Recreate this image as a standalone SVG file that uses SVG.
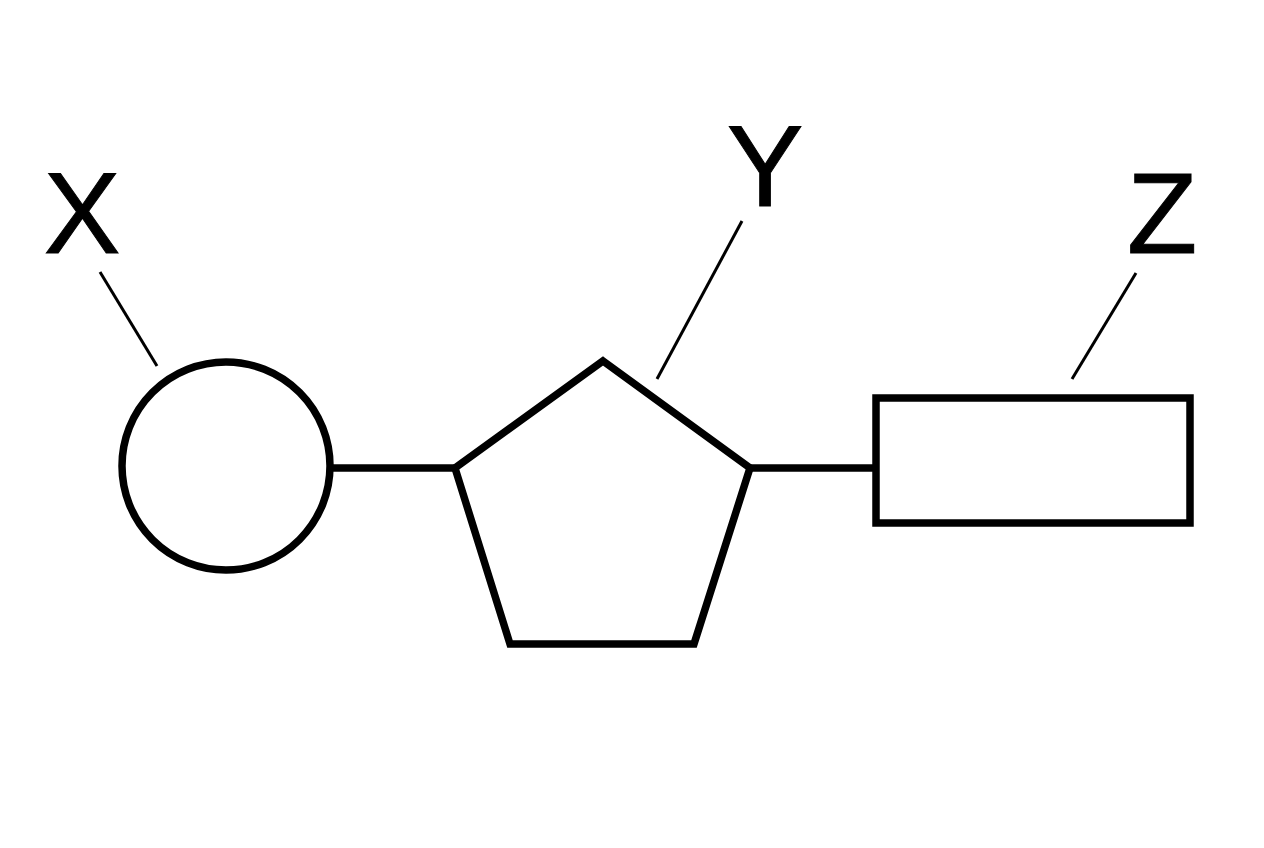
<svg xmlns="http://www.w3.org/2000/svg" width="1264" height="848" viewBox="0 0 1264 848">
<style>
.shape{fill:#fff;stroke:#000;stroke-width:7.5;stroke-linejoin:miter}
.conn{stroke:#000;stroke-width:7.5}
.lead{stroke:#000;stroke-width:3}
.lbl{font-family:"Liberation Sans",Arial,sans-serif;font-size:115px;fill:#000;stroke:#000;stroke-width:1}
</style>
<rect width="1264" height="848" fill="#fff"/>
<g id="connectors">
<line class="conn" x1="330" y1="468" x2="455" y2="468"/>
<line class="conn" x1="750" y1="468" x2="877" y2="468"/>
<line class="lead" x1="100" y1="272" x2="157" y2="366"/>
<line class="lead" x1="742" y1="221" x2="657" y2="379"/>
<line class="lead" x1="1136" y1="273" x2="1072" y2="379"/>
</g>
<g id="circle"><circle class="shape" cx="226" cy="466" r="104"/></g>
<g id="pentagon"><polygon class="shape" points="603,361 750,468 694,644 510,644 455,468"/></g>
<g id="rect"><rect class="shape" x="876" y="398" width="314" height="125"/></g>
<g id="labels">
<text class="lbl" x="82" y="253" text-anchor="middle">X</text>
<text class="lbl" x="765" y="206" text-anchor="middle">Y</text>
<text class="lbl" x="1162" y="253" text-anchor="middle">Z</text>
</g>
</svg>
